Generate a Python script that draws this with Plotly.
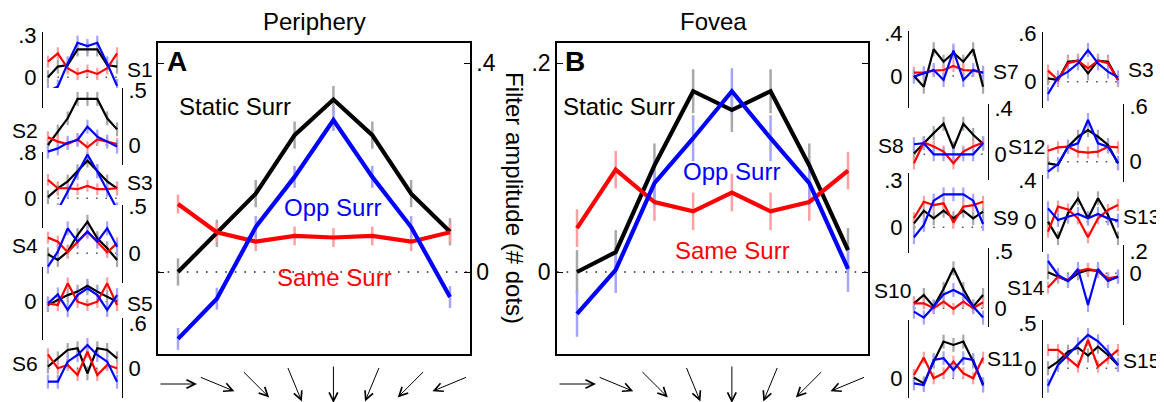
import math
import plotly.graph_objects as go

W, H = 1164, 402
PAGE_OFFSET = 8  # default body margin of the html page
FONT = "Liberation Sans, Arial, Helvetica, sans-serif"

# ---------------- data ----------------
positions = [0, 1, 2, 3, 4, 5, 6, 7]
motion_dir_deg = [0, 22.5, 45, 67.5, 90, 112.5, 135, 157.5]
series_names = ["Static Surr", "Same Surr", "Opp Surr"]

periph_static = [0.000, 0.074, 0.150, 0.262, 0.330, 0.262, 0.150, 0.077]
periph_same = [0.130, 0.076, 0.058, 0.069, 0.066, 0.069, 0.058, 0.076]
periph_opp = [-0.128, -0.051, 0.086, 0.182, 0.291, 0.182, 0.086, -0.048]
periph_err = [0.026, 0.018, 0.021]

fovea_static = [0.000, 0.019, 0.102, 0.173, 0.155, 0.173, 0.102, 0.021]
fovea_same = [0.042, 0.098, 0.067, 0.058, 0.076, 0.058, 0.067, 0.097]
fovea_opp = [-0.040, 0.002, 0.085, 0.128, 0.173, 0.128, 0.085, 0.003]
fovea_err = [0.021, 0.018, 0.022]

main_ticks = [0.4, 0.2]

small_names = ["S1", "S2", "S3", "S4", "S5", "S6",
               "S7", "S8", "S9", "S10", "S11",
               "S3", "S12", "S13", "S14", "S15"]
small_top_ticks = [0.3, 0.5, 0.8, 0.5, 0.2, 0.6,
                   0.4, 0.4, 0.3, 0.5, 0.5,
                   0.6, 0.6, 0.4, 0.2, 0.5]

S1_static = [0.000, 0.076, 0.087, 0.198, 0.198, 0.198, 0.087, 0.076]
S1_same = [0.111, 0.170, 0.064, 0.024, 0.047, 0.024, 0.064, 0.170]
S1_opp = [-0.100, -0.066, 0.099, 0.245, 0.222, 0.245, 0.099, -0.061]
S1_err = [0.050, 0.043, 0.050]

S2_static = [0.000, 0.123, 0.246, 0.424, 0.424, 0.424, 0.246, 0.144]
S2_same = [0.071, 0.031, 0.009, 0.052, -0.021, 0.052, 0.031, 0.009]
S2_opp = [-0.061, -0.031, 0.021, 0.046, 0.169, 0.077, 0.031, -0.015]
S2_err = [0.064, 0.055, 0.064]

S3p_static = [0.020, 0.170, 0.290, 0.470, 0.650, 0.470, 0.290, 0.170]
S3p_same = [0.319, 0.174, 0.174, 0.157, 0.215, 0.157, 0.157, 0.174]
S3p_opp = [-0.348, -0.203, 0.116, 0.435, 0.754, 0.464, 0.145, -0.190]
S3p_err = [0.120, 0.100, 0.120]

S4_static = [-0.011, -0.071, 0.018, 0.196, 0.339, 0.161, 0.054, -0.071]
S4_same = [0.168, 0.125, 0.011, 0.125, 0.232, 0.125, 0.011, 0.107]
S4_opp = [-0.143, 0.018, 0.268, 0.125, 0.232, 0.125, 0.268, 0.071]
S4_err = [0.075, 0.064, 0.075]

S5_static = [-0.018, 0.009, 0.036, 0.055, 0.087, 0.055, 0.027, 0.000]
S5_same = [-0.009, -0.018, 0.100, 0.000, -0.018, 0.000, 0.100, -0.018]
S5_opp = [-0.009, 0.040, -0.045, 0.036, 0.073, 0.036, -0.045, 0.036]
S5_err = [0.038, 0.033, 0.038]

S6_static = [0.022, 0.133, 0.244, 0.267, -0.067, 0.267, 0.244, 0.133]
S6_same = [0.187, 0.000, 0.044, -0.089, 0.222, -0.089, 0.044, 0.000]
S6_opp = [-0.178, -0.178, 0.089, 0.178, 0.311, 0.178, 0.089, -0.178]
S6_err = [0.093, 0.080, 0.093]

S7_static = [0.000, -0.100, 0.250, 0.134, 0.219, 0.134, 0.250, -0.100]
S7_same = [0.031, 0.031, 0.050, 0.056, 0.094, 0.056, 0.050, 0.031]
S7_opp = [-0.006, 0.025, 0.056, -0.038, 0.238, -0.038, 0.056, 0.031]
S7_err = [0.066, 0.056, 0.066]

S8_static = [0.006, 0.096, 0.183, 0.264, 0.052, 0.264, 0.168, 0.090]
S8_same = [-0.078, 0.102, 0.067, 0.023, -0.078, 0.023, 0.067, 0.102]
S8_opp = [0.087, 0.096, 0.000, 0.000, 0.000, 0.000, 0.000, 0.096]
S8_err = [0.060, 0.052, 0.060]

S9_static = [0.025, 0.105, 0.057, 0.105, 0.057, 0.105, 0.057, 0.099]
S9_same = [0.057, 0.162, 0.141, 0.152, 0.030, 0.131, 0.141, 0.162]
S9_opp = [-0.063, 0.015, 0.169, 0.209, 0.209, 0.209, 0.169, 0.021]
S9_err = [0.044, 0.038, 0.044]

S10_static = [0.044, 0.118, 0.015, 0.170, 0.353, 0.170, 0.015, 0.118]
S10_same = [0.044, 0.044, 0.000, 0.059, -0.006, 0.059, 0.000, 0.053]
S10_opp = [-0.029, -0.082, 0.015, 0.123, 0.162, 0.118, 0.015, -0.082]
S10_err = [0.062, 0.053, 0.062]

S11_static = [0.006, -0.042, 0.139, 0.306, 0.278, 0.306, 0.139, -0.050]
S11_same = [0.028, 0.172, 0.000, 0.042, 0.139, 0.042, 0.000, 0.172]
S11_opp = [-0.042, -0.056, 0.153, 0.167, 0.069, 0.167, 0.153, -0.061]
S11_err = [0.058, 0.050, 0.058]

S3f_static = [0.041, 0.021, 0.248, 0.261, 0.104, 0.261, 0.248, 0.021]
S3f_same = [0.137, 0.021, 0.228, 0.261, 0.166, 0.261, 0.228, 0.021]
S3f_opp = [-0.153, 0.054, 0.124, 0.228, 0.393, 0.228, 0.124, 0.054]
S3f_err = [0.087, 0.074, 0.087]

S12_static = [-0.018, -0.036, 0.162, 0.269, 0.341, 0.269, 0.180, -0.018]
S12_same = [0.118, 0.154, 0.162, 0.108, 0.097, 0.108, 0.162, 0.154]
S12_opp = [-0.108, -0.025, 0.162, 0.197, 0.449, 0.197, 0.162, -0.011]
S12_err = [0.075, 0.065, 0.075]

S13_static = [0.000, -0.160, 0.080, 0.224, 0.032, 0.224, 0.064, -0.160]
S13_same = [-0.096, 0.144, 0.118, 0.032, -0.150, 0.032, 0.112, 0.160]
S13_opp = [0.128, 0.016, 0.048, 0.074, 0.032, 0.074, 0.032, 0.010]
S13_err = [0.067, 0.058, 0.067]

S14_static = [0.009, -0.031, -0.071, 0.000, 0.031, 0.022, -0.062, -0.031]
S14_same = [-0.132, -0.031, -0.062, 0.022, 0.040, 0.022, -0.046, -0.031]
S14_opp = [0.114, -0.015, -0.071, 0.040, -0.293, 0.040, -0.071, -0.031]
S14_err = [0.065, 0.056, 0.065]

S15_static = [0.000, 0.074, 0.185, 0.229, 0.141, 0.241, 0.148, 0.037]
S15_same = [0.204, 0.204, 0.111, 0.019, 0.315, 0.019, 0.111, 0.204]
S15_opp = [-0.193, 0.037, 0.148, 0.266, 0.370, 0.300, 0.185, 0.037]
S15_err = [0.078, 0.067, 0.078]

small_data = [
    (S1_static, S1_same, S1_opp, S1_err),
    (S2_static, S2_same, S2_opp, S2_err),
    (S3p_static, S3p_same, S3p_opp, S3p_err),
    (S4_static, S4_same, S4_opp, S4_err),
    (S5_static, S5_same, S5_opp, S5_err),
    (S6_static, S6_same, S6_opp, S6_err),
    (S7_static, S7_same, S7_opp, S7_err),
    (S8_static, S8_same, S8_opp, S8_err),
    (S9_static, S9_same, S9_opp, S9_err),
    (S10_static, S10_same, S10_opp, S10_err),
    (S11_static, S11_same, S11_opp, S11_err),
    (S3f_static, S3f_same, S3f_opp, S3f_err),
    (S12_static, S12_same, S12_opp, S12_err),
    (S13_static, S13_same, S13_opp, S13_err),
    (S14_static, S14_same, S14_opp, S14_err),
    (S15_static, S15_same, S15_opp, S15_err),
]

# ---------------- layout geometry (screen pixels) ----------------
# main: x0, x1, first_pt, last_pt, top, bottom, zero_px, tick_px, side
main_geom = [
    (158, 470, 178, 450, 43, 354, 272, 63, "right"),
    (557, 868, 577, 848, 43, 354, 272, 63, "left"),
]
# small: x0, x1, top, bottom, zero_px, tick_px, side, label_x, label_y
small_geom = [
    (43, 122, 32, 108, 77.3, 35.0, "left", 140, 69),
    (43, 122, 88, 165, 145.0, 90.7, "right", 25, 130),
    (43, 122, 152, 228, 198.3, 152.0, "left", 140, 183),
    (43, 122, 205, 283, 253.3, 206.7, "right", 25, 245),
    (43, 122, 267, 340, 301.7, 265.0, "left", 140, 303),
    (43, 122, 318, 398, 368.3, 323.3, "right", 25, 363),
    (909, 988, 31, 108, 76.0, 33.3, "left", 1006, 72),
    (909, 988, 104, 180, 154.3, 108.0, "right", 891, 145),
    (909, 988, 173, 253, 227.3, 180.0, "left", 1006, 217),
    (909, 988, 248, 327, 308.3, 251.7, "right", 892, 290),
    (909, 988, 320, 398, 378.3, 318.3, "left", 1005, 358),
    (1043, 1123, 32, 108, 81.7, 33.3, "left", 1141, 70),
    (1043, 1123, 104, 182, 161.7, 106.0, "right", 1026, 147),
    (1043, 1123, 175, 252, 221.7, 180.0, "left", 1141, 216),
    (1043, 1123, 245, 325, 273.3, 251.7, "right", 1026, 287),
    (1043, 1123, 320, 398, 368.3, 323.3, "left", 1141, 360),
]

LINE_C = ["#000000", "#ff0000", "#0000ff"]
ERR_C = ["#a8a8a8", "#ff9f9f", "#a4a4ff"]


def pxx(p):
    return (p - PAGE_OFFSET) / W


def pxy(p):
    return 1 - (p - PAGE_OFFSET) / H


def fmt(v):
    if v == 0:
        return "0"
    s = f"{v:g}"
    return s.replace("0.", ".", 1)


def ax_names(i):
    return ("x" if i == 1 else f"x{i}", "y" if i == 1 else f"y{i}")


fig = go.Figure()
layout = {}
annotations = []


def add_series(i, series, errs, lw, ew, xr, dotc):
    xa, ya = ax_names(i)
    fig.add_trace(go.Scatter(x=[xr[0], xr[1]], y=[0, 0], mode="lines", xaxis=xa, yaxis=ya,
                             line=dict(color=dotc, width=1.6, dash="1.6px,8px"),
                             hoverinfo="skip", showlegend=False))
    for vals, e, c in zip(series, errs, ERR_C):
        fig.add_trace(go.Scatter(x=positions, y=vals, mode="markers", xaxis=xa, yaxis=ya,
                                 marker=dict(size=0.1, opacity=0),
                                 error_y=dict(type="constant", value=e, color=c,
                                              thickness=ew, width=0),
                                 hoverinfo="skip", showlegend=False))
    for vals, c, nm in zip(series, LINE_C, series_names):
        fig.add_trace(go.Scatter(x=positions, y=vals, mode="lines", xaxis=xa, yaxis=ya,
                                 line=dict(color=c, width=lw), name=nm, showlegend=False))


# main panels
main_series = [
    ((periph_static, periph_same, periph_opp), periph_err),
    ((fovea_static, fovea_same, fovea_opp), fovea_err),
]
for k, ((series, errs), g, tick) in enumerate(zip(main_series, main_geom, main_ticks)):
    i = k + 1
    x0, x1, fp, lp, top, bot, zp, tp, side = g
    unit = (lp - fp) / 7
    xr = [-(fp - x0) / unit, 7 + (x1 - lp) / unit]
    scale = tick / (zp - tp)
    yr = [-(bot - zp) * scale, (zp - top) * scale]
    add_series(i, series, errs, 4.2, 2.5, xr, "#222222")
    xa, ya = ax_names(i)
    layout["xaxis" if i == 1 else f"xaxis{i}"] = dict(
        domain=[pxx(x0), pxx(x1)], range=xr, anchor=ya, showline=True, mirror=True,
        linecolor="black", linewidth=1.5, ticks="", showticklabels=False,
        showgrid=False, zeroline=False, automargin=False)
    layout["yaxis" if i == 1 else f"yaxis{i}"] = dict(
        domain=[pxy(bot), pxy(top)], range=yr, anchor=xa, side=side, showline=True,
        mirror="ticks", linecolor="black", linewidth=1.5, ticks="inside", ticklen=6,
        tickcolor="black", tickvals=[0, tick], ticktext=[fmt(0), fmt(tick)],
        tickfont=dict(size=23, color="black", family=FONT), showgrid=False, zeroline=False,
        automargin=False)

# small panels
for k, (name, tick, (st, sa, op, er), g) in enumerate(zip(small_names, small_top_ticks, small_data, small_geom)):
    i = k + 3
    x0, x1, top, bot, zp, tp, side, lx, ly = g
    scale = tick / (zp - tp)
    yr = [-(bot - zp) * scale, (zp - top) * scale]
    xr = [-0.5, 7.5]
    add_series(i, (st, sa, op), er, 2.2, 2.2, [0, 7], "#555555")
    xa, ya = ax_names(i)
    layout[f"xaxis{i}"] = dict(domain=[pxx(x0), pxx(x1)], range=xr, anchor=ya, visible=False,
                               automargin=False)
    layout[f"yaxis{i}"] = dict(
        domain=[pxy(bot), pxy(top)], range=yr, anchor=xa, side=side, showline=True,
        linecolor="black", linewidth=1.2, ticks="", tickvals=[0, tick],
        ticktext=[fmt(0), fmt(tick)], ticklabelstandoff=1,
        tickfont=dict(size=22, color="black", family=FONT), showgrid=False, zeroline=False,
        automargin=False)
    annotations.append(dict(text=name, x=pxx(lx), y=pxy(ly), xref="paper", yref="paper",
                            showarrow=False, xanchor="center", yanchor="middle",
                            font=dict(size=21, color="black", family=FONT)))


# text labels in main panels
def txt(s, x, y, color="black", size=24, xanchor="center", bold=False, angle=0):
    if bold:
        s = f"<b>{s}</b>"
    annotations.append(dict(text=s, x=pxx(x), y=pxy(y), xref="paper", yref="paper",
                            showarrow=False, xanchor=xanchor, yanchor="middle", textangle=angle,
                            font=dict(size=size, color=color, family=FONT)))


txt("Periphery", 314, 22)
txt("Fovea", 713, 22)
txt("A", 165, 62, size=28, xanchor="left", bold=True)
txt("B", 563, 62, size=28, xanchor="left", bold=True)
txt(series_names[0], 177, 107, xanchor="left")
txt(series_names[2], 332, 207, color="#0000ff")
txt(series_names[1], 334, 277, color="#ff0000")
txt(series_names[0], 561, 106, xanchor="left")
txt(series_names[2], 731, 172, color="#0000ff")
txt(series_names[1], 732, 250, color="#ff0000")
txt("Filter amplitude (# dots)", 514, 198, angle=90)

# motion-direction arrows under each main panel
L = 38
arrow_y = 384
for xa in ["x", "x2"]:
    for p, d in zip(positions, motion_dir_deg):
        ux, uy = math.cos(math.radians(d)), math.sin(math.radians(d))
        annotations.append(dict(
            x=p, y=pxy(arrow_y), xref=xa, yref="paper", text="", showarrow=True,
            axref="pixel", ayref="pixel", ax=-L * ux, ay=-L * uy,
            xshift=L / 2 * ux, yshift=-L / 2 * uy,
            arrowhead=5, arrowsize=1.7, arrowwidth=1, arrowcolor="black"))

fig.update_layout(
    template="none",
    width=W, height=H, autosize=False,
    margin=dict(l=0, r=0, t=0, b=0, pad=0, autoexpand=False),
    paper_bgcolor="white", plot_bgcolor="white",
    font=dict(family=FONT, color="black"),
    showlegend=False,
    annotations=annotations,
    **layout,
)

fig.write_html("out.html")
